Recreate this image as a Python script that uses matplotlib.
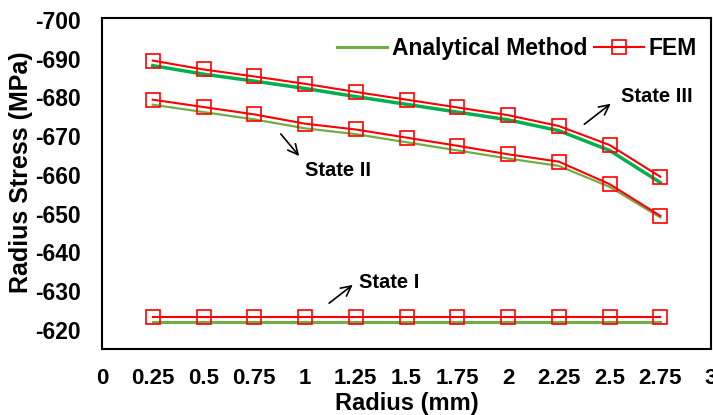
import numpy as np
import matplotlib
matplotlib.use('Agg')
import matplotlib.pyplot as plt

plt.rcParams['font.family'] = ['Liberation Sans', 'DejaVu Sans']
plt.rcParams['font.weight'] = 'bold'
plt.rcParams['axes.unicode_minus'] = False

# 반경 (mm)
radius = [0.25, 0.5, 0.75, 1.0, 1.25, 1.5, 1.75, 2.0, 2.25, 2.5, 2.75]

# State III
ana_3 = [-688.2, -686.0, -684.2, -682.3, -680.2, -678.2, -676.2, -674.2, -671.4, -666.3, -658.0]
fem_3 = [-689.5, -687.2, -685.4, -683.5, -681.4, -679.4, -677.4, -675.4, -672.6, -667.7, -659.5]

# State II
ana_2 = [-678.1, -676.2, -674.3, -672.0, -670.5, -668.4, -666.3, -664.2, -662.3, -656.9, -649.0]
fem_2 = [-679.4, -677.5, -675.6, -673.2, -671.7, -669.6, -667.5, -665.3, -663.4, -657.6, -649.4]

# State I
ana_1 = [-622.0] * 11
fem_1 = [-623.2] * 11

xticks = [0, 0.25, 0.5, 0.75, 1, 1.25, 1.5, 1.75, 2, 2.25, 2.5, 2.75, 3]
xlabels = ['0', '0.25', '0.5', '0.75', '1', '1.25', '1.5', '1.75', '2', '2.25', '2.5', '2.75', '3']
yticks = [-620, -630, -640, -650, -660, -670, -680, -690, -700]

fig = plt.figure(figsize=(7.13, 4.15), dpi=100)
ax = fig.add_axes([102 / 713, 1 - 349 / 415, 609 / 713, 331 / 415])

light_green = '#70AD47'
dark_green = '#00B050'
red = '#FF0000'

ax.plot(radius, ana_1, c=light_green, lw=2.2, label='Analytical Method')
ax.plot(radius, ana_2, c=light_green, lw=1.6)
ax.plot(radius, ana_3, c=dark_green, lw=2.5)
fem_style = dict(c=red, lw=1.5, marker='s', ms=10, mfc='none', mec=red, mew=1.2)
ax.plot(radius, fem_1, label='FEM', **fem_style)
ax.plot(radius, fem_2, **fem_style)
ax.plot(radius, fem_3, **fem_style)

ax.set_xlim(0, 3)
ax.set_ylim(-615, -700.5)
ax.set_xticks(xticks)
ax.set_xticklabels(xlabels)
ax.set_yticks(yticks)
ax.tick_params(axis='x', length=0, labelsize=16, pad=14)
ax.tick_params(axis='y', length=0, labelsize=16.5, pad=15)
for sp in ax.spines.values():
    sp.set_linewidth(1.5)

ax.set_xlabel('Radius (mm)', fontsize=17, fontweight='bold', labelpad=2)
ax.set_ylabel('Radius Stress (MPa)', fontsize=18, fontweight='bold')
ax.yaxis.set_label_coords(-0.113, 0.535)

# 주석
arr = dict(arrowstyle='->', color='k', lw=1.2, mutation_scale=18)
ax.annotate('', xy=(2.517, -678.8), xytext=(2.365, -672.6), arrowprops=arr)
ax.text(2.557, -680.1, 'State III', fontsize=14.5, fontweight='bold', va='center')
ax.annotate('', xy=(0.98, -664.3), xytext=(0.872, -671.1), arrowprops=arr)
ax.text(1.0, -661.2, 'State II', fontsize=14.5, fontweight='bold', va='center')
ax.annotate('', xy=(1.246, -632.0), xytext=(1.108, -626.4), arrowprops=arr)
ax.text(1.266, -632.3, 'State I', fontsize=14.5, fontweight='bold', va='center')

ax.legend(loc='upper right', ncol=2, frameon=False, fontsize=16.5,
          handlelength=2.2, handletextpad=0.2, columnspacing=0.3,
          borderaxespad=0.2, bbox_to_anchor=(1.0, 0.985))

fig.savefig('out.png', dpi=100)
